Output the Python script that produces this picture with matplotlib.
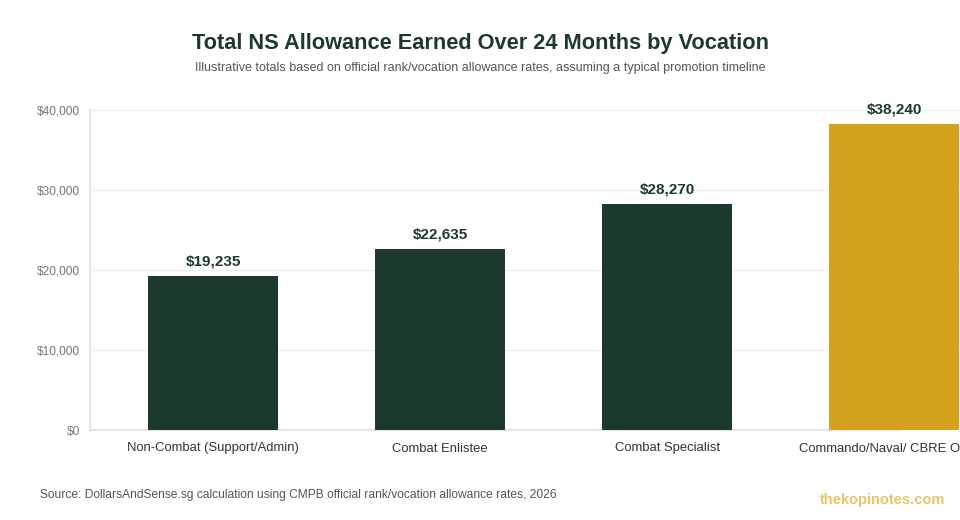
import matplotlib
matplotlib.use("Agg")
import matplotlib.pyplot as plt
from matplotlib.ticker import FuncFormatter

categories = ["Non-Combat (Support/Admin)", "Combat Enlistee", "Combat Specialist", "Commando/Naval/ CBRE Officer"]
totals = [19235, 22635, 28270, 38240]
bar_colors = ["#1c3a2b", "#1c3a2b", "#1c3a2b", "#d4a11d"]
y_ticks = [0, 10000, 20000, 30000, 40000]

plt.rcParams["font.family"] = ["Liberation Sans", "DejaVu Sans"]

fig = plt.figure(figsize=(9.6, 5.2), dpi=100)
# plot area runs past the right edge of the image, so the last bar is cut off
ax = fig.add_axes([90 / 960, 90 / 520, 908 / 960, 320 / 520])

x = range(len(categories))
ax.bar(x, totals, width=0.573, color=bar_colors, zorder=3)

for i, v in enumerate(totals):
    ax.annotate(f"${v:,}", (i, v), xytext=(0, 5.5), textcoords="offset points",
                ha="center", va="bottom", fontsize=11, fontweight="bold",
                color="#1c3a2b", clip_on=False)

ax.set_xlim(-0.542, 3.458)
ax.set_ylim(0, 40000)
ax.set_yticks(y_ticks)
ax.yaxis.set_major_formatter(FuncFormatter(lambda v, p: f"${v:,.0f}"))
ax.set_xticks(list(x))
ax.set_xticklabels(categories)

ax.grid(axis="y", color="#f0f0f0", linewidth=1, zorder=0)
ax.tick_params(axis="y", length=0, pad=7, labelsize=8.6, labelcolor="#777777")
ax.tick_params(axis="x", length=0, pad=9, labelsize=9.4, labelcolor="#333333")

for side in ["top", "right"]:
    ax.spines[side].set_visible(False)
ax.spines["left"].set_color("#e6e6e6")
ax.spines["left"].set_linewidth(1.5)
ax.spines["bottom"].set_color("#e6e6e6")
ax.spines["bottom"].set_linewidth(1.5)
ax.spines["bottom"].set_bounds(-0.542, 3.026)

fig.text(0.5, 1 - 43 / 520, "Total NS Allowance Earned Over 24 Months by Vocation",
         ha="center", va="center", fontsize=15.7, fontweight="bold", color="#1c3a2b")
fig.text(0.5, 1 - 68 / 520,
         "Illustrative totals based on official rank/vocation allowance rates, assuming a typical promotion timeline",
         ha="center", va="center", fontsize=9, color="#555555")

fig.text(40 / 960, 1 - 495 / 520,
         "Source: DollarsAndSense.sg calculation using CMPB official rank/vocation allowance rates, 2026",
         ha="left", va="center", fontsize=8.65, color="#555555")
fig.text(945 / 960, 1 - 500 / 520, "thekopinotes.com", ha="right", va="center",
         fontsize=10.5, fontweight="bold", color="#e8c46a")

fig.savefig("out.png", dpi=100)
